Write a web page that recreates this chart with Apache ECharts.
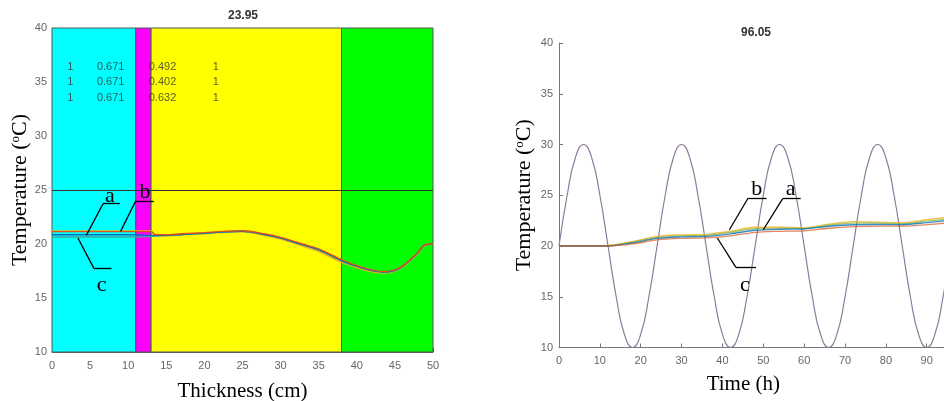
<!DOCTYPE html>
<html>
<head>
<meta charset="utf-8">
<script src="https://cdn.jsdelivr.net/npm/echarts@6/dist/echarts.min.js"></script>
<style>
  html, body { margin: 0; padding: 0; background: #fff; }
  #main { width: 944px; height: 401px; }
</style>
</head>
<body>
<div id="main"></div>
<script>
// ---- left panel: profile through the wall at t = 23.95 h
const thickX     = [0, 11, 13, 13.6, 15, 17, 20, 22, 25, 28, 30, 33, 35, 38, 40, 42, 43.5, 45, 46, 47, 48, 48.8, 50];
const profOrange = [21.15, 21.15, 21.15, 20.85, 20.85, 20.95, 21.05, 21.15, 21.22, 20.92, 20.62, 19.98, 19.55, 18.55, 18.0, 17.6, 17.45, 17.6, 17.98, 18.55, 19.22, 19.88, 20.0];
const profYellow = [21.2, 21.2, 21.2, 20.8, 20.75, 20.85, 20.95, 21.05, 21.12, 20.78, 20.45, 19.78, 19.3, 18.3, 17.8, 17.42, 17.3, 17.48, 17.85, 18.42, 19.1, 19.8, 20.0];
const profBlue   = [20.85, 20.85, 20.8, 20.8, 20.8, 20.88, 21.0, 21.1, 21.17, 20.86, 20.55, 19.9, 19.45, 18.45, 17.93, 17.53, 17.4, 17.55, 17.93, 18.5, 19.17, 19.85, 20.0];
const profTeal   = [20.65, 20.65, 20.7, 20.72, 20.78, 20.88, 21.0, 21.1, 21.18, 20.88, 20.58, 19.93, 19.48, 18.48, 17.95, 17.55, 17.42, 17.57, 17.95, 18.52, 19.2, 19.87, 20.0];
const layerEdges  = [0, 11, 13, 38, 50];
const layerColors = ['#00ffff', '#ff00ff', '#ffff00', '#00ff00'];
const setPoint    = 25;
const tableRows = [
  ['1', '0.671', '0.492', '1'],
  ['1', '0.671', '0.402', '1'],
  ['1', '0.671', '0.632', '1']
];
const tableColX = [2.4, 7.7, 14.5, 21.5];
const tableRowY = [36.4, 35.0, 33.5];

// ---- right panel: temperature vs time
const timeX     = [0, 6, 12, 18, 24, 30, 36, 42, 48, 54, 60, 66, 72, 78, 84, 90, 96];
const inYellow  = [20, 20, 20.05, 20.45, 20.95, 21.1, 21.15, 21.45, 21.85, 21.85, 21.8, 22.15, 22.4, 22.35, 22.3, 22.6, 22.85];
const inGreen   = [20, 20, 20.03, 20.38, 20.85, 21.0, 21.05, 21.35, 21.72, 21.75, 21.72, 22.05, 22.25, 22.25, 22.2, 22.45, 22.7];
const inBlue    = [20, 20, 20.0, 20.3, 20.75, 20.9, 20.95, 21.2, 21.55, 21.65, 21.68, 21.95, 22.1, 22.12, 22.1, 22.3, 22.55];
const inOrange  = [20, 20, 20.0, 20.2, 20.6, 20.75, 20.8, 21.0, 21.35, 21.45, 21.5, 21.75, 21.9, 21.95, 21.95, 22.1, 22.3];
const outT = [0, 2, 4, 6, 8, 10, 12, 14, 16, 18, 20, 22, 24, 26, 28, 30, 32, 34, 36, 38, 40, 42, 44, 46, 48,
              50, 52, 54, 56, 58, 60, 62, 64, 66, 68, 70, 72, 74, 76, 78, 80, 82, 84, 86, 88, 90, 92, 94, 96, 98, 100];
const outTemp = [20, 25, 28.7, 30, 28.7, 25, 20, 15, 11.3, 10, 11.3, 15,
                 20, 25, 28.7, 30, 28.7, 25, 20, 15, 11.3, 10, 11.3, 15,
                 20, 25, 28.7, 30, 28.7, 25, 20, 15, 11.3, 10, 11.3, 15,
                 20, 25, 28.7, 30, 28.7, 25, 20, 15, 11.3, 10, 11.3, 15,
                 20, 25, 28.7];

// leader lines and letters (data coords)
const leftLeaders  = [[[4.5, 20.8], [6.7, 23.73], [8.9, 23.73]],
                      [[9.0, 21.17], [11.0, 24.0], [13.37, 24.0]],
                      [[3.4, 20.56], [5.5, 17.74], [7.8, 17.74]]];
const leftLetters  = [['a', 7.6, 24.47], ['b', 12.2, 24.78], ['c', 6.5, 16.14]];
const rightLeaders = [[[41.7, 21.6], [46.3, 24.73], [50.8, 24.73]],
                      [[50.0, 21.6], [54.75, 24.66], [59.15, 24.66]],
                      [[38.75, 20.79], [43.3, 17.9], [48.2, 17.9]]];
const rightLetters = [['b', 48.4, 25.57], ['a', 56.7, 25.57], ['c', 45.5, 16.09]];

const serif = 'Liberation Serif';
const sans = 'Liberation Sans';
const pairs = (xs, ys) => xs.map((x, i) => [x, ys[i]]);

const leaderLines = (list) => {
  let out = [];
  list.forEach(pts => {
    for (let i = 0; i < pts.length - 1; i++) out.push([{ coord: pts[i] }, { coord: pts[i + 1] }]);
  });
  return out;
};
const letterPoints = (list) => list.map(l => ({
  coord: [l[1], l[2]], symbolSize: 0,
  label: { show: true, position: 'inside', formatter: l[0], fontFamily: serif, fontSize: 22, color: '#000' }
}));
const annot = (list, letters) => ({
  markLine: {
    silent: true, symbol: 'none', animation: false,
    lineStyle: { color: '#000', width: 1.3, type: 'solid' },
    label: { show: false },
    data: leaderLines(list)
  },
  markPoint: { silent: true, animation: false, data: letterPoints(letters) }
});

const yName = 'Temperature ({sup|o}C)';
const nameStyle = (size) => ({
  fontFamily: serif, fontSize: size, color: '#000',
  rich: { sup: { fontFamily: serif, fontSize: 13, color: '#000', padding: [0, 0, 9, 0] } }
});
const tick = { fontFamily: sans, fontSize: 11, color: '#666' };

let tableData = [];
tableRows.forEach((row, r) => row.forEach((txt, c) => {
  tableData.push({ value: [tableColX[c], tableRowY[r]], name: txt });
}));

const chart = echarts.init(document.getElementById('main'));
chart.setOption({
  animation: false,
  title: [
    { text: '23.95', left: 243, top: 10, padding: 0, textAlign: 'center',
      textStyle: { fontFamily: sans, fontSize: 12, fontWeight: 'bold', color: '#333' } },
    { text: '96.05', left: 756, top: 27, padding: 0, textAlign: 'center',
      textStyle: { fontFamily: sans, fontSize: 12, fontWeight: 'bold', color: '#333' } }
  ],
  grid: [
    { left: 52, top: 28, width: 381, height: 324, outerBoundsMode: 'none' },
    { left: 559, top: 43, width: 408.6, height: 304.5, outerBoundsMode: 'none' }
  ],
  xAxis: [
    { gridIndex: 0, type: 'value', min: 0, max: 50, interval: 5,
      name: 'Thickness (cm)', nameLocation: 'middle', nameGap: 29, nameTextStyle: nameStyle(21),
      axisLine: { lineStyle: { color: '#666' } }, axisTick: { inside: true, length: 4, lineStyle: { color: '#666' } },
      axisLabel: Object.assign({ margin: 8 }, tick), splitLine: { show: false } },
    { gridIndex: 1, type: 'value', min: 0, max: 100, interval: 10,
      name: 'Time (h)', nameLocation: 'middle', nameGap: 26, nameTextStyle: Object.assign(nameStyle(21), { padding: [0, 40, 0, 0] }),
      axisLine: { lineStyle: { color: '#777' } }, axisTick: { inside: true, length: 4, lineStyle: { color: '#777' } },
      axisLabel: Object.assign({ margin: 8 }, tick), splitLine: { show: false } }
  ],
  yAxis: [
    { gridIndex: 0, type: 'value', min: 10, max: 40, interval: 5,
      name: yName, nameLocation: 'middle', nameGap: 21, nameTextStyle: nameStyle(22),
      axisLine: { show: true, lineStyle: { color: '#666' } }, axisTick: { show: true, inside: true, length: 4, lineStyle: { color: '#666' } },
      axisLabel: Object.assign({ margin: 5 }, tick), splitLine: { show: false } },
    { gridIndex: 1, type: 'value', min: 10, max: 40, interval: 5,
      name: yName, nameLocation: 'middle', nameGap: 24, nameTextStyle: nameStyle(22),
      axisLine: { show: true, lineStyle: { color: '#777' } }, axisTick: { show: true, inside: true, length: 4, lineStyle: { color: '#777' } },
      axisLabel: Object.assign({ margin: 6 }, tick), splitLine: { show: false } }
  ],
  series: [
    // wall layers + set point line
    { type: 'line', xAxisIndex: 0, yAxisIndex: 0, data: [], z: 1, silent: true,
      markArea: {
        silent: true,
        data: layerColors.map((c, i) => [
          { xAxis: layerEdges[i], itemStyle: { color: c, borderColor: '#555', borderWidth: 1 } },
          { xAxis: layerEdges[i + 1] }
        ])
      },
      markLine: {
        silent: true, symbol: 'none', label: { show: false },
        lineStyle: { color: '#333', width: 1, type: 'solid' },
        data: [{ yAxis: setPoint }]
      }
    },
    { type: 'scatter', xAxisIndex: 0, yAxisIndex: 0, data: tableData, symbolSize: 0, z: 3, silent: true,
      label: { show: true, position: 'inside', formatter: '{b}', fontFamily: sans, fontSize: 11, color: '#333' } },
    Object.assign({ type: 'line', xAxisIndex: 0, yAxisIndex: 0, data: pairs(thickX, profYellow), smooth: 0.3, showSymbol: false, z: 2,
      lineStyle: { color: '#EDB120', width: 1.4 } }, annot(leftLeaders, leftLetters)),
    { type: 'line', xAxisIndex: 0, yAxisIndex: 0, data: pairs(thickX, profTeal), smooth: 0.3, showSymbol: false, z: 2,
      lineStyle: { color: '#3aa8a0', width: 1.4 } },
    { type: 'line', xAxisIndex: 0, yAxisIndex: 0, data: pairs(thickX, profBlue), smooth: 0.3, showSymbol: false, z: 2,
      lineStyle: { color: '#0072BD', width: 1.4 } },
    { type: 'line', xAxisIndex: 0, yAxisIndex: 0, data: pairs(thickX, profOrange), smooth: 0.3, showSymbol: false, z: 2,
      lineStyle: { color: '#D95319', width: 1.4 } },

    // right panel
    { type: 'line', xAxisIndex: 1, yAxisIndex: 1, data: pairs(outT, outTemp), smooth: 0.5, showSymbol: false,
      lineStyle: { color: '#8d7b9b', width: 1.2 } },
    Object.assign({ type: 'line', xAxisIndex: 1, yAxisIndex: 1, data: pairs(timeX, inYellow), smooth: 0.3, showSymbol: false,
      lineStyle: { color: '#EDB120', width: 1.4, opacity: 0.8 } }, annot(rightLeaders, rightLetters)),
    { type: 'line', xAxisIndex: 1, yAxisIndex: 1, data: pairs(timeX, inGreen), smooth: 0.3, showSymbol: false,
      lineStyle: { color: '#77AC30', width: 1.2, opacity: 0.7 } },
    { type: 'line', xAxisIndex: 1, yAxisIndex: 1, data: pairs(timeX, inBlue), smooth: 0.3, showSymbol: false,
      lineStyle: { color: '#0072BD', width: 1.4, opacity: 0.8 } },
    { type: 'line', xAxisIndex: 1, yAxisIndex: 1, data: pairs(timeX, inOrange), smooth: 0.3, showSymbol: false,
      lineStyle: { color: '#D95319', width: 1.3, opacity: 0.7 } }
  ]
});
</script>
</body>
</html>
